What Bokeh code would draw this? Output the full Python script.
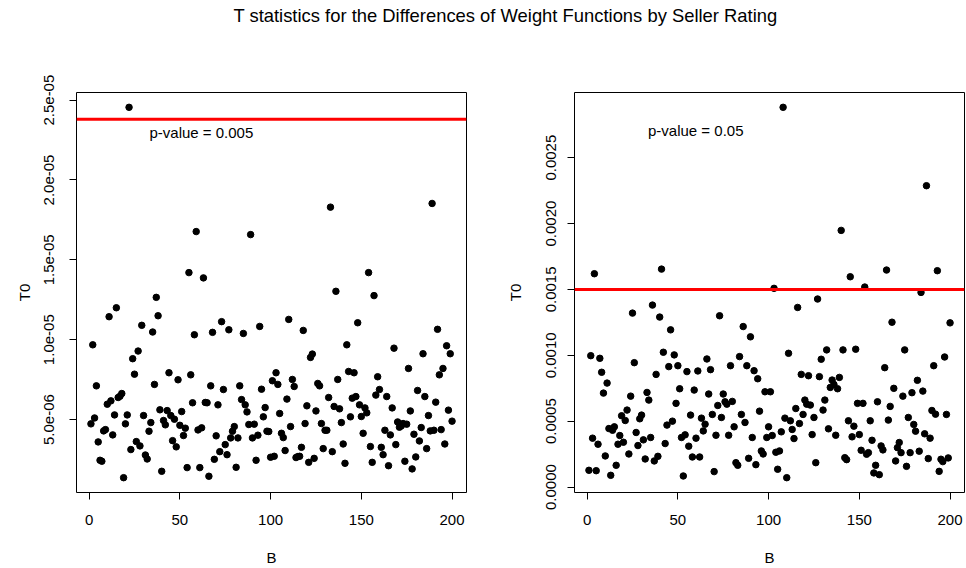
import numpy as np
from bokeh.plotting import figure
from bokeh.models import Range1d, FixedTicker, CustomJSTickFormatter, Span, Label
from bokeh.layouts import column, row
from bokeh.embed import file_html
from bokeh.resources import INLINE

# ---------------- data ----------------
main_title = "T statistics for the Differences of Weight Functions by Seller Rating"
x_label = "B"
y_label = "T0"

B = list(range(1, 201))

# left panel values, in units of 1e-6
t0_left_e6 = [
    4.73, 9.68, 5.10, 7.11, 3.60, 2.45, 2.39, 4.29, 4.37, 5.96,
    11.44, 6.17, 4.04, 5.29, 12.0, 6.38, 6.46, 6.63, 1.36, 4.73,
    5.29, 24.55, 3.12, 8.81, 7.84, 3.62, 9.29, 3.35, 10.9, 5.25,
    2.78, 2.53, 4.27, 4.81, 10.48, 7.2, 12.65, 11.5, 5.61, 1.76,
    4.94, 4.67, 5.56, 7.93, 5.25, 3.68, 5.02, 3.29, 7.49, 4.64,
    5.5, 4.0, 4.46, 1.99, 14.2, 7.8, 6.05, 10.31, 16.77, 4.35,
    1.99, 4.48, 13.87, 6.07, 6.05, 1.45, 7.11, 10.46, 2.51, 3.98,
    5.92, 2.99, 11.13, 6.88, 3.43, 2.8, 10.62, 3.85, 4.27, 4.56,
    2.01, 3.85, 7.11, 6.25, 10.39, 5.92, 5.48, 4.69, 16.58, 3.85,
    4.71, 2.45, 4.02, 10.83, 6.9, 5.17, 5.75, 4.27, 4.25, 2.64,
    7.43, 2.7, 7.93, 7.2, 5.38, 4.14, 3.87, 3.06, 6.28, 11.27,
    4.56, 7.51, 7.07, 2.62, 2.68, 2.7, 3.26, 10.58, 4.75, 5.86,
    2.32, 8.89, 9.1, 2.57, 5.54, 7.26, 7.11, 4.75, 3.18, 4.33,
    4.33, 6.38, 18.3, 2.99, 5.82, 13.03, 7.51, 5.67, 4.81, 3.47,
    2.26, 9.68, 8.01, 5.17, 6.34, 7.93, 6.44, 11.06, 5.92, 5.19,
    4.14, 5.73, 5.42, 14.2, 3.31, 2.32, 12.76, 6.53, 7.68, 6.88,
    3.26, 2.8, 4.33, 6.44, 2.11, 4.04, 5.73, 9.47, 3.43, 4.85,
    4.52, 4.6, 4.75, 2.39, 4.71, 8.2, 5.54, 1.91, 4.08, 2.66,
    6.82, 3.66, 4.5, 9.12, 6.44, 3.18, 5.25, 4.29, 18.53, 4.33,
    6.09, 10.65, 7.8, 4.37, 8.2, 3.47, 9.62, 5.59, 9.12, 4.9,
]

# right panel values, in units of 1e-4
t0_right_e4 = [
    1.27, 9.97, 3.71, 16.19, 1.24, 3.25, 9.77, 8.71, 7.13, 2.36,
    7.89, 4.44, 0.89, 4.31, 4.57, 1.65, 3.25, 3.91, 5.41, 3.4,
    5.05, 5.84, 2.51, 6.9, 13.2, 9.44, 4.14, 3.15, 5.18, 5.46,
    3.58, 2.13, 7.18, 6.6, 3.76, 13.81, 1.98, 8.55, 2.33, 12.9,
    16.54, 10.23, 3.3, 4.7, 9.14, 11.93, 5.0, 10.03, 6.35, 9.21,
    7.46, 3.76, 0.84, 3.96, 8.76, 3.1, 5.46, 2.28, 7.36, 3.71,
    8.81, 2.28, 5.23, 4.26, 4.77, 9.72, 7.06, 8.91, 5.51, 1.17,
    3.93, 6.19, 13.0, 5.28, 7.06, 6.47, 6.29, 3.93, 9.21, 6.5,
    4.57, 1.85, 1.65, 9.9, 5.51, 12.18, 4.9, 9.21, 2.18, 11.4,
    3.76, 8.83, 1.7, 8.22, 5.76, 2.74, 2.51, 7.23, 3.76, 4.57,
    7.23, 3.91, 15.08, 2.64, 1.35, 2.74, 4.19, 28.82, 5.23, 0.71,
    10.15, 5.03, 4.37, 3.68, 5.96, 13.63, 4.82, 8.55, 5.51, 6.6,
    6.29, 8.45, 6.22, 3.98, 5.28, 1.85, 14.27, 8.38, 9.7, 5.84,
    6.6, 10.41, 4.42, 7.56, 8.12, 7.79, 3.93, 7.46, 8.32, 19.48,
    10.41, 2.23, 2.08, 5.03, 15.96, 3.81, 4.62, 10.46, 6.35, 3.98,
    2.79, 6.35, 15.18, 2.49, 2.61, 5.03, 3.55, 1.07, 1.65, 6.47,
    0.94, 3.12, 2.82, 9.06, 16.47, 5.08, 6.12, 12.51, 7.49, 1.98,
    2.99, 3.38, 2.61, 6.9, 10.41, 1.57, 5.28, 2.61, 7.16, 4.75,
    4.24, 8.1, 2.72, 14.77, 7.28, 4.04, 22.87, 2.16, 3.71, 5.81,
    9.21, 5.53, 16.42, 1.19, 2.11, 1.93, 9.87, 5.51, 2.21, 12.46,
]

t0_left = [v * 1e-6 for v in t0_left_e6]
t0_right = [v * 1e-4 for v in t0_right_e4]

threshold_left = 2.381e-05
threshold_right = 0.0015
pvalue_left = "p-value =  0.005"
pvalue_right = "p-value =  0.05"
pvalue_pos_left = (63, 2.296e-05)
pvalue_pos_right = (61, 0.002703)

x_ticks = [0, 50, 100, 150, 200]
y_ticks_left = [5e-06, 1e-05, 1.5e-05, 2e-05, 2.5e-05]
y_labels_left = ["5.0e-06", "1.0e-05", "1.5e-05", "2.0e-05", "2.5e-05"]
y_ticks_right = [0.0, 0.0005, 0.0010, 0.0015, 0.0020, 0.0025]
y_labels_right = ["0.0000", "0.0005", "0.0010", "0.0015", "0.0020", "0.0025"]

FONT = "Liberation Sans"

assert len(t0_left) == len(B) and len(t0_right) == len(B)


def padded(lo, hi):
    s = hi - lo
    return Range1d(lo - 0.04 * s, hi + 0.04 * s)


def panel(vals, thresh, ptxt, ppos, yticks, ylabels, bl, br, tick_standoff, lab_standoff):
    y = np.asarray(vals)
    x = np.asarray(B)
    p = figure(frame_width=390, frame_height=400,
               x_range=padded(x.min(), x.max()), y_range=padded(y.min(), y.max()),
               output_backend="svg", toolbar_location=None,
               min_border_left=bl, min_border_right=br,
               min_border_top=52, min_border_bottom=76)
    p.grid.visible = False
    p.outline_line_color = "black"
    p.outline_line_width = 1
    p.outline_line_alpha = 1.0
    p.background_fill_color = "white"
    p.border_fill_color = "white"

    p.scatter(x, y, size=6.5, fill_color="black", line_color="black", marker="circle")
    p.add_layout(Span(location=thresh, dimension="width", line_color="#ff0000", line_width=3))
    p.add_layout(Label(x=ppos[0], y=ppos[1], text=ptxt, text_align="center",
                       text_baseline="middle", text_font=FONT, text_font_size="15px",
                       text_color="black"))

    for ax in (p.xaxis[0], p.yaxis[0]):
        ax.axis_line_color = None
        ax.major_tick_line_color = "black"
        ax.major_tick_out = 7
        ax.major_tick_in = 0
        ax.minor_tick_line_color = None
        ax.major_label_text_font = FONT
        ax.major_label_text_font_size = "15px"
        ax.major_label_text_color = "black"
        ax.axis_label_text_font = FONT
        ax.axis_label_text_font_size = "15px"
        ax.axis_label_text_font_style = "normal"
        ax.axis_label_text_color = "black"

    xa = p.xaxis[0]
    xa.ticker = FixedTicker(ticks=x_ticks)
    xa.axis_label = x_label
    xa.major_label_standoff = 15
    xa.axis_label_standoff = 21

    ya = p.yaxis[0]
    ya.ticker = FixedTicker(ticks=yticks)
    ya.formatter = CustomJSTickFormatter(args=dict(vals=yticks, labels=ylabels), code="""
        let best = 0, bd = Infinity;
        for (let i = 0; i < vals.length; i++) {
            const d = Math.abs(vals[i] - tick);
            if (d < bd) { bd = d; best = i; }
        }
        return labels[best];
    """)
    ya.major_label_orientation = "vertical"
    ya.major_label_standoff = tick_standoff
    ya.axis_label = y_label
    ya.axis_label_standoff = lab_standoff
    return p


p1 = panel(t0_left, threshold_left, pvalue_left, pvalue_pos_left,
           y_ticks_left, y_labels_left, 76, 17, 15, 9)
p2 = panel(t0_right, threshold_right, pvalue_right, pvalue_pos_right,
           y_ticks_right, y_labels_right, 91, 2, 11, 20)

pt = figure(frame_width=966, frame_height=40, x_range=Range1d(0, 1), y_range=Range1d(0, 1),
            x_axis_type=None, y_axis_type=None, output_backend="svg", toolbar_location=None,
            min_border=0, min_border_left=0, min_border_right=0,
            min_border_top=0, min_border_bottom=0)
pt.outline_line_color = None
pt.grid.visible = False
pt.add_layout(Label(x=505, y=25, x_units="screen", y_units="screen", text=main_title,
                    text_align="center", text_baseline="middle", text_font=FONT,
                    text_font_size="18.4px", text_color="black"))

layout = column(pt, row(p1, p2, spacing=0), spacing=0)

with open("out.html", "w") as f:
    f.write(file_html(layout, INLINE))
